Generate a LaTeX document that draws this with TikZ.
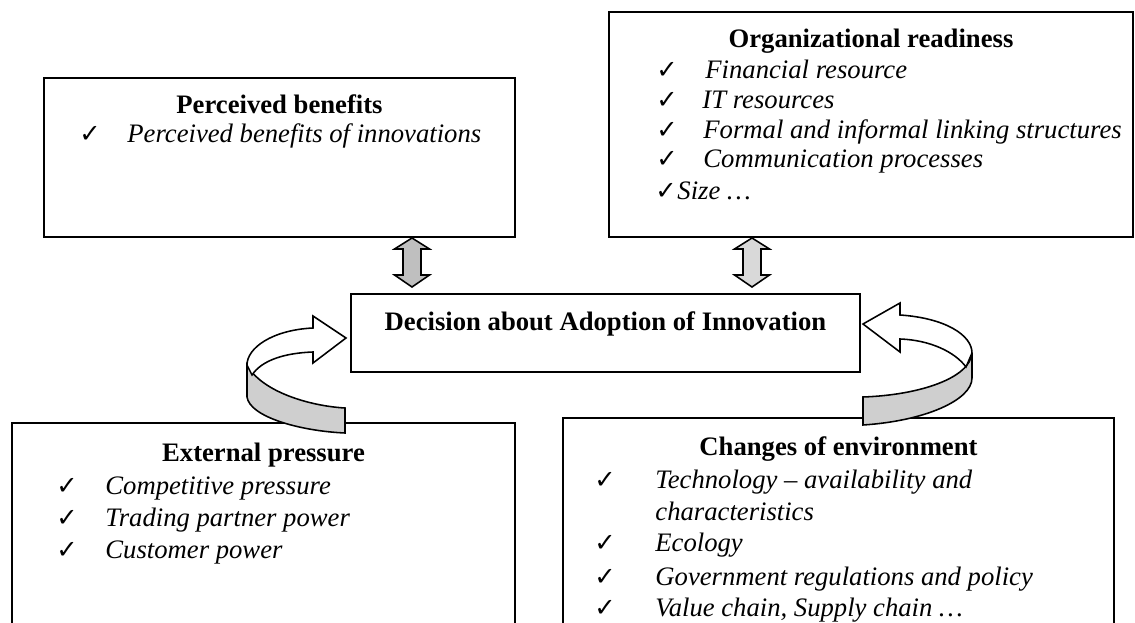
\documentclass[tikz,border=0pt]{standalone}
\usepackage{fontspec}
\setmainfont{Liberation Serif}
\newfontfamily\symfont{DejaVu Sans}
\usetikzlibrary{calc}
\newcommand{\basefont}{\fontsize{12}{14}\selectfont}

\tikzset{
  box/.style={draw, line width=0.9pt},
  ttl/.style={anchor=base, inner sep=0, font=\basefont\bfseries},
  itm/.style={anchor=base west, inner sep=0, font=\basefont\itshape},
  tick/.style={anchor=base west, inner sep=0, font=\symfont\fontsize{11.5}{13}\selectfont},
  blk/.style={draw, line width=0.7pt, line join=miter},
}

\begin{document}
\begin{tikzpicture}[x=0.45pt, y=-0.45pt]
\useasboundingbox (0,0) rectangle (1135,623);
\clip (0,0) rectangle (1135,623);
% boxes
\draw[box] (44,78) rectangle (515,237);
\draw[box] (609,12) rectangle (1133,237);
\draw[box] (351,294) rectangle (860,372);
\draw[box] (12,423) rectangle (515,660);
\draw[box] (563,418) rectangle (1114,660);

% titles
\node[ttl] (benefits) at (279.5,114) {Perceived benefits};
\node[ttl] (readiness) at (871,48) {Organizational readiness};
\node[ttl] (decision) at (605.5,330) {Decision about Adoption of Innovation};
\node[ttl] (pressure) at (263.5,461) {External pressure};
\node[ttl] (environment) at (838.5,455) {Changes of environment};

% items
\node[tick] (pbc1) at (79,143) {✓};
\node[itm] (pb1) at (127,143) {Perceived benefits of innovations};

\foreach \yy/\xx/\t [count=\i] in {79/705/Financial resource, 109/702/IT resources,
  139/703/Formal and informal linking structures, 168/703/Communication processes} {
 \node[tick] (orc\i) at (656,\yy) {✓};
 \node[itm] (or\i) at (\xx,\yy) {\t};
}
\node[tick] (orc5) at (655,200) {✓};
\node[itm] (or5) at (677,200) {Size …};

\foreach \yy/\t [count=\i] in {494/Competitive pressure, 526/Trading partner power, 558/Customer power} {
 \node[tick] (epc\i) at (56,\yy) {✓};
 \node[itm] (ep\i) at (105,\yy) {\t};
}

\foreach \yy/\t [count=\i] in {488/Technology -- availability and, 551/Ecology,
  585/Government regulations and policy, 616/{Value chain, Supply chain …}} {
 \node[tick] (cec\i) at (594,\yy) {✓};
 \node[itm] (ce\i) at (655,\yy) {\t};
}
\node[itm] (ce1b) at (655,520) {characteristics};

% double arrows
\foreach \cx/\col in {412/black!25, 752/black!15} {
 \filldraw[blk, fill=\col] (\cx,238) -- ++(17.5,11) -- ++(-8.5,0) -- ++(0,26) -- ++(8.5,0)
   -- ++(-17.5,12) -- ++(-17.5,-12) -- ++(8.5,0) -- ++(0,-26) -- ++(-8.5,0) -- cycle;
}

% u-turn arrows
\filldraw[blk, fill=black!19] (247,365) .. controls (262,392) and (310,406) .. (345,408)
  -- (345,433) .. controls (300,431) and (250,417) .. (247,397) -- cycle;
\filldraw[blk, fill=white] (313,328) .. controls (272,330) and (247,348) .. (247,365)
  -- (252,375) .. controls (262,360) and (285,353) .. (313,352)
  -- (313,363) -- (346,338) -- (313,316) -- cycle;

\filldraw[blk, fill=black!19] (972,353) .. controls (970,378) and (920,395) .. (863,397)
  -- (863,425) .. controls (925,421) and (972,400) .. (972,378) -- cycle;
\filldraw[blk, fill=white] (900,315) .. controls (945,318) and (972,335) .. (972,353)
  -- (966,367) .. controls (955,352) and (930,340) .. (900,339)
  -- (900,352) -- (863,324) -- (900,303) -- cycle;
\end{tikzpicture}
\end{document}
